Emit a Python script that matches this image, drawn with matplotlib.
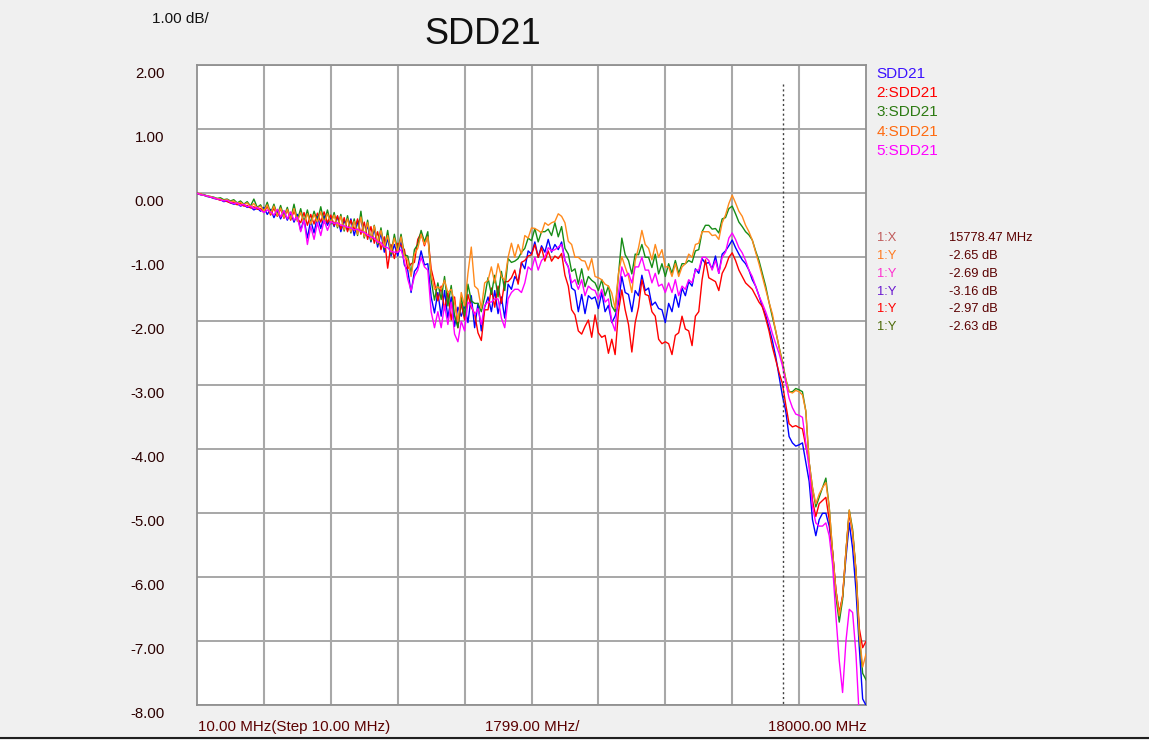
import numpy as np
import matplotlib
matplotlib.use("Agg")
import matplotlib.pyplot as plt
from matplotlib.lines import Line2D

plt.rcParams['font.family'] = ['Liberation Sans', 'DejaVu Sans']

# ---------------- data ----------------
f_start, f_stop = 10.0, 18000.0
freq_mhz = np.linspace(f_start, f_stop, 201)   # sweep sample grid (MHz)

sdd21_1 = [  # blue
    0.00, -0.02, -0.03, -0.05, -0.06, -0.08, -0.09, -0.10, -0.13, -0.12, -0.15, -0.17, -0.16, -0.20, -0.18, -0.22, -0.21, -0.26, -0.23, -0.28,
    -0.22, -0.33, -0.25, -0.38, -0.27, -0.40, -0.28, -0.42, -0.30, -0.45, -0.33, -0.58, -0.40, -0.70, -0.42, -0.62, -0.36, -0.55, -0.35, -0.50,
    -0.38, -0.52, -0.36, -0.60, -0.42, -0.58, -0.40, -0.66, -0.46, -0.40, -0.68, -0.50, -0.76, -0.55, -0.84, -0.62, -0.92, -0.70, -0.98, -0.80,
    -0.98, -0.76, -1.12, -1.20, -1.55, -1.22, -1.15, -0.90, -1.12, -1.10, -1.62, -1.87, -1.55, -1.92, -1.52, -1.95, -1.62, -2.08, -1.78, -1.92,
    -1.75, -2.02, -1.60, -2.10, -1.72, -2.15, -1.78, -1.62, -1.85, -1.52, -1.88, -1.62, -1.95, -1.42, -1.50, -1.30, -1.38, -1.08, -1.18, -0.90,
    -0.95, -0.76, -1.00, -0.82, -0.92, -0.72, -0.92, -0.80, -0.88, -0.76, -1.05, -1.15, -1.48, -1.52, -1.85, -1.58, -1.88, -1.60, -1.65, -1.62,
    -1.80, -1.55, -1.85, -1.75, -2.02, -1.92, -1.72, -1.30, -1.55, -1.58, -1.85, -1.52, -1.60, -1.28, -1.52, -1.48, -1.75, -1.70, -1.80, -1.82,
    -2.02, -1.72, -1.85, -1.58, -1.78, -1.48, -1.60, -1.38, -1.45, -1.18, -1.25, -1.02, -1.10, -1.08, -1.18, -0.98, -1.25, -0.95, -0.90, -0.82,
    -0.73, -0.85, -0.95, -1.04, -1.10, -1.20, -1.35, -1.45, -1.60, -1.77, -1.90, -2.10, -2.30, -2.55, -2.85, -3.16, -3.40, -3.80, -3.90, -3.95,
    -3.93, -3.90, -4.20, -4.50, -5.10, -5.35, -5.10, -5.00, -5.00, -5.20, -5.60, -6.20, -6.60, -6.30, -5.70, -5.15, -5.55, -6.20, -7.10, -7.90, -8.00,
]
sdd21_2 = [  # red
    0.00, -0.01, -0.03, -0.04, -0.06, -0.07, -0.09, -0.11, -0.10, -0.13, -0.15, -0.14, -0.18, -0.16, -0.20, -0.19, -0.23, -0.21, -0.25, -0.24,
    -0.30, -0.20, -0.34, -0.23, -0.36, -0.24, -0.39, -0.26, -0.42, -0.28, -0.40, -0.46, -0.30, -0.50, -0.33, -0.48, -0.31, -0.45, -0.29, -0.46,
    -0.34, -0.50, -0.35, -0.56, -0.38, -0.60, -0.42, -0.58, -0.40, -0.64, -0.45, -0.72, -0.52, -0.78, -0.60, -0.88, -0.68, -1.17, -0.80, -1.02,
    -0.78, -0.82, -0.88, -1.18, -1.10, -1.08, -0.72, -0.62, -0.82, -0.66, -1.18, -1.40, -1.68, -1.45, -1.82, -1.55, -1.98, -1.62, -2.10, -1.72,
    -1.98, -1.58, -1.78, -1.88, -2.18, -2.30, -1.82, -1.82, -1.48, -1.78, -1.45, -1.72, -1.38, -1.38, -1.32, -1.20, -1.42, -1.08, -1.05, -0.98,
    -0.96, -0.80, -1.00, -0.85, -1.06, -0.90, -1.06, -0.98, -1.02, -0.94, -1.28, -1.45, -1.82, -1.90, -2.15, -2.20, -2.08, -1.98, -2.25, -1.90,
    -2.18, -2.25, -2.22, -2.50, -2.28, -2.52, -1.85, -1.51, -1.82, -2.05, -2.48, -2.02, -1.78, -1.35, -1.58, -1.60, -1.85, -1.92, -2.28, -2.35,
    -2.32, -2.35, -2.52, -2.22, -2.18, -1.92, -2.12, -2.15, -2.38, -1.92, -1.85, -1.35, -1.04, -1.32, -1.35, -1.38, -1.52, -1.25, -1.15, -1.00,
    -0.93, -1.05, -1.20, -1.30, -1.40, -1.45, -1.50, -1.60, -1.70, -1.77, -1.95, -2.15, -2.40, -2.60, -2.80, -2.97, -3.30, -3.60, -3.65, -3.63,
    -3.66, -3.68, -3.95, -4.20, -4.80, -5.05, -4.85, -4.80, -4.75, -5.10, -5.60, -6.20, -6.55, -6.30, -5.60, -5.00, -5.30, -5.90, -6.80, -7.10, -7.00,
]
sdd21_3 = [  # green
    0.00, -0.02, -0.02, -0.04, -0.05, -0.06, -0.08, -0.07, -0.10, -0.09, -0.12, -0.10, -0.15, -0.12, -0.17, -0.13, -0.20, -0.09, -0.22, -0.18,
    -0.28, -0.14, -0.31, -0.17, -0.34, -0.19, -0.37, -0.22, -0.40, -0.17, -0.42, -0.24, -0.46, -0.26, -0.48, -0.28, -0.44, -0.21, -0.46, -0.26,
    -0.48, -0.30, -0.54, -0.33, -0.59, -0.35, -0.62, -0.40, -0.66, -0.28, -0.70, -0.42, -0.75, -0.50, -0.80, -0.54, -0.87, -0.58, -0.95, -0.64,
    -0.90, -0.64, -0.96, -0.98, -1.26, -0.88, -0.80, -0.58, -0.76, -0.60, -1.36, -1.67, -1.40, -1.66, -1.30, -1.76, -1.44, -1.92, -2.10, -1.62,
    -1.92, -1.42, -1.68, -1.72, -1.72, -1.85, -1.62, -1.32, -1.58, -1.28, -1.62, -1.22, -1.52, -1.02, -1.08, -1.06, -1.02, -0.92, -0.86, -0.70,
    -0.74, -0.55, -0.76, -0.60, -0.60, -0.56, -0.66, -0.46, -0.68, -0.52, -0.86, -0.95, -1.22, -1.18, -1.42, -1.18, -1.46, -1.30, -1.36, -1.40,
    -1.52, -1.35, -1.60, -1.45, -1.76, -1.85, -1.28, -0.70, -0.96, -1.05, -1.26, -0.95, -0.96, -0.80, -1.00, -1.00, -1.16, -0.95, -1.26, -1.10,
    -1.30, -1.10, -1.25, -1.05, -1.25, -1.10, -1.10, -1.05, -1.08, -0.90, -0.88, -0.60, -0.50, -0.50, -0.56, -0.55, -0.62, -0.40, -0.38, -0.24,
    -0.20, -0.32, -0.45, -0.52, -0.60, -0.65, -0.73, -0.90, -1.05, -1.25, -1.45, -1.70, -1.93, -2.15, -2.40, -2.63, -2.90, -3.10, -3.10, -3.05,
    -3.07, -3.10, -3.40, -4.20, -4.60, -4.90, -4.75, -4.60, -4.45, -4.90, -5.60, -6.30, -6.70, -6.35, -5.60, -4.95, -5.25, -5.90, -6.90, -7.50, -7.60,
]
sdd21_4 = [  # orange
    0.00, -0.01, -0.03, -0.04, -0.05, -0.07, -0.08, -0.09, -0.11, -0.10, -0.13, -0.12, -0.16, -0.14, -0.18, -0.15, -0.21, -0.16, -0.23, -0.20,
    -0.28, -0.18, -0.32, -0.20, -0.35, -0.23, -0.38, -0.25, -0.40, -0.24, -0.44, -0.30, -0.47, -0.32, -0.48, -0.33, -0.45, -0.29, -0.47, -0.32,
    -0.46, -0.34, -0.52, -0.36, -0.57, -0.40, -0.60, -0.44, -0.64, -0.37, -0.68, -0.46, -0.72, -0.51, -0.78, -0.58, -0.84, -0.66, -0.92, -0.70,
    -0.92, -0.68, -0.98, -1.04, -1.30, -0.95, -0.86, -0.64, -0.80, -0.68, -1.26, -1.50, -1.46, -1.50, -1.36, -1.55, -1.50, -1.70, -2.00, -1.55,
    -1.76, -1.25, -0.84, -1.45, -1.50, -1.80, -1.40, -1.36, -1.15, -1.40, -1.10, -1.30, -1.36, -1.00, -0.78, -1.00, -0.80, -0.95, -0.66, -0.70,
    -0.54, -0.55, -0.58, -0.62, -0.46, -0.50, -0.46, -0.44, -0.32, -0.36, -0.46, -0.75, -0.80, -1.00, -1.00, -1.05, -1.06, -1.20, -1.02, -1.30,
    -1.32, -1.35, -1.42, -1.45, -1.56, -1.80, -1.25, -0.99, -1.15, -1.30, -1.55, -1.05, -0.85, -0.58, -0.80, -0.86, -1.04, -0.80, -1.00, -0.88,
    -1.15, -1.15, -1.30, -1.10, -1.30, -1.15, -1.10, -0.95, -1.00, -0.80, -0.78, -0.60, -0.60, -0.60, -0.66, -0.65, -0.72, -0.46, -0.34, -0.16,
    -0.03, -0.15, -0.28, -0.36, -0.50, -0.60, -0.73, -0.92, -1.10, -1.30, -1.50, -1.70, -1.88, -2.15, -2.40, -2.65, -2.90, -3.10, -3.12, -3.08,
    -3.10, -3.15, -3.40, -4.20, -4.60, -4.85, -4.70, -4.60, -4.52, -4.90, -5.60, -6.20, -6.60, -6.30, -5.60, -4.95, -5.30, -5.90, -6.90, -7.40, -7.20,
]
sdd21_5 = [  # magenta
    0.00, -0.02, -0.03, -0.04, -0.06, -0.07, -0.09, -0.10, -0.12, -0.11, -0.14, -0.16, -0.15, -0.19, -0.17, -0.21, -0.20, -0.24, -0.22, -0.26,
    -0.30, -0.26, -0.29, -0.34, -0.25, -0.37, -0.27, -0.40, -0.29, -0.42, -0.37, -0.60, -0.42, -0.80, -0.52, -0.72, -0.46, -0.66, -0.42, -0.58,
    -0.44, -0.47, -0.46, -0.50, -0.51, -0.53, -0.54, -0.57, -0.56, -0.60, -0.61, -0.65, -0.68, -0.70, -0.76, -0.77, -0.84, -0.85, -0.91, -0.92,
    -0.92, -0.88, -1.06, -1.34, -1.52, -1.30, -1.20, -1.00, -1.15, -1.20, -1.85, -2.10, -1.85, -2.10, -1.75, -2.05, -1.70, -2.20, -2.32, -2.00,
    -2.15, -1.70, -1.75, -1.90, -1.80, -2.05, -1.75, -1.70, -1.70, -1.65, -1.65, -1.95, -2.10, -1.65, -1.55, -1.50, -1.50, -1.55, -1.40, -1.15,
    -1.20, -1.00, -1.20, -1.05, -1.00, -0.85, -0.90, -0.88, -0.84, -0.80, -1.05, -1.15, -1.40, -1.35, -1.50, -1.35, -1.60, -1.45, -1.50, -1.52,
    -1.65, -1.50, -1.70, -1.65, -2.00, -2.15, -1.55, -1.15, -1.30, -1.25, -1.40, -1.15, -1.15, -1.00, -1.20, -1.20, -1.40, -1.25, -1.45, -1.42,
    -1.55, -1.40, -1.55, -1.35, -1.60, -1.45, -1.50, -1.35, -1.40, -1.20, -1.20, -1.00, -1.00, -1.05, -1.20, -1.05, -1.25, -1.00, -0.92, -0.70,
    -0.62, -0.72, -0.85, -0.93, -1.05, -1.20, -1.30, -1.45, -1.60, -1.72, -1.85, -2.00, -2.19, -2.35, -2.50, -2.69, -2.95, -3.20, -3.35, -3.45,
    -3.47, -3.50, -3.90, -4.30, -4.90, -5.15, -5.20, -5.20, -5.15, -5.35, -5.80, -6.60, -7.30, -7.80, -7.00, -6.50, -6.55, -7.20, -8.20, -8.50, -8.50,
]

series_names = ["SDD21", "2:SDD21", "3:SDD21", "4:SDD21", "5:SDD21"]
series_values = [sdd21_1, sdd21_2, sdd21_3, sdd21_4, sdd21_5]
for s in series_values:
    assert len(s) == len(freq_mhz), len(s)

y_ticks = [2.0, 1.0, 0.0, -1.0, -2.0, -3.0, -4.0, -5.0, -6.0, -7.0, -8.0]
y_tick_labels = ["2.00", "1.00", "0.00", "-1.00", "-2.00", "-3.00", "-4.00",
                 "-5.00", "-6.00", "-7.00", "-8.00"]
x_step = 1799.0
x_labels = ["10.00 MHz(Step 10.00 MHz)", "1799.00 MHz/", "18000.00 MHz"]

marker_freq = 15778.47
marker_labels = ["1:X", "1:Y", "1:Y", "1:Y", "1:Y", "1:Y"]
marker_values = ["15778.47 MHz", "-2.65 dB", "-2.69 dB", "-3.16 dB", "-2.97 dB", "-2.63 dB"]

# ---------------- styles ----------------
W, H = 1149, 740
trace_colors = ["#0000ff", "#ff0000", "#168c16", "#ff8a1c", "#ff00ff"]
legend_colors = ["#3a10ff", "#ff0000", "#2c7a12", "#ff6a10", "#ff00ff"]
marker_label_colors = ["#c05a5a", "#ff7a20", "#ff30d0", "#6a18d0", "#ff0000", "#4c6a08"]
dark_red = "#5a0000"

fig = plt.figure(figsize=(W / 100, H / 100), dpi=100, facecolor="#f0f0f0")

def fx(px):
    return px / W

def fy(py):
    return 1 - py / H

left, right, top, bottom = 197, 866, 65.3, 705.3
ax = fig.add_axes([fx(left), fy(bottom), (right - left) / W, (bottom - top) / H])
ax.set_facecolor("white")
ax.set_xlim(f_start, f_stop)
ax.set_ylim(-8, 2)

# grid
for v in y_ticks:
    ax.axhline(v, color="#a0a0a0", lw=1.3, zorder=1)
for i in range(1, 10):
    ax.axvline(f_start + i * x_step, color="#a8a8a8", lw=1.5, zorder=1)
for sp in ax.spines.values():
    sp.set_color("#909090")
    sp.set_linewidth(1.3)
ax.set_xticks([])
ax.set_yticks([])

# traces
for vals, c in zip(series_values, trace_colors):
    ax.plot(freq_mhz, vals, color=c, lw=1.0, zorder=3)

# marker line
ax.plot([marker_freq, marker_freq], [1.7, -8], color="#404040", lw=1.0,
        linestyle=(0, (1.5, 2)), zorder=4)

# y tick labels (shifted below grid lines as in the reference)
for v, lab in zip(y_ticks, y_tick_labels):
    ax.annotate(lab, xy=(0, v), xycoords=("axes fraction", "data"),
                xytext=(-23.5, -6.1), textcoords="offset points",
                ha="right", va="center", fontsize=10.8, color="#2a0000",
                annotation_clip=False)

# x labels
fig.text(fx(198), fy(727), x_labels[0], ha="left", va="center", fontsize=10.9, color=dark_red)
fig.text(fx(532), fy(727), x_labels[1], ha="center", va="center", fontsize=10.9, color=dark_red)
fig.text(fx(866.5), fy(727), x_labels[2], ha="right", va="center", fontsize=10.9, color=dark_red)

# title and scale
fig.text(fx(482.5), fy(35), "SDD21", ha="center", va="center", fontsize=26, color="#111111")
fig.text(fx(152), fy(19), "1.00 dB/", ha="left", va="center", fontsize=11, color="#111111")

# legend
for i, (name, c) in enumerate(zip(series_names, legend_colors)):
    fig.text(fx(876.5), fy(74 + 19.2 * i), name, ha="left", va="center",
             fontsize=11, color=c)

# marker table
for i, (lab, val, c) in enumerate(zip(marker_labels, marker_values, marker_label_colors)):
    yy = 238.3 + 17.8 * i
    fig.text(fx(876.5), fy(yy), lab, ha="left", va="center", fontsize=9.3, color=c)
    fig.text(fx(949), fy(yy), val, ha="left", va="center", fontsize=9.3, color=dark_red)

# window bottom border
fig.add_artist(Line2D([0, 1], [fy(737.5), fy(737.5)], color="#202020", lw=1.5))

fig.savefig("out.png", dpi=100, facecolor=fig.get_facecolor())
